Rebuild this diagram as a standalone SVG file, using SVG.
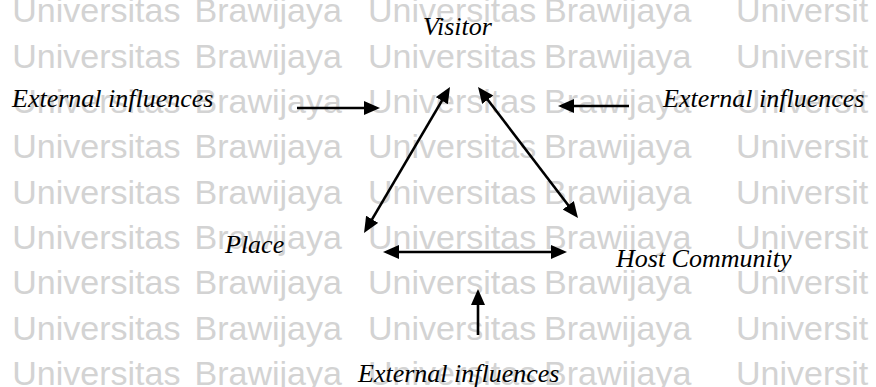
<svg xmlns="http://www.w3.org/2000/svg" width="876" height="387" viewBox="0 0 876 387">
  <style>
    .wm { font-family: "Liberation Sans", Arial, sans-serif; font-size: 34px; fill: #d3d3d3; }
    .lbl { font-family: "Liberation Serif", "Times New Roman", serif; font-style: italic; font-size: 26px; fill: #000; }
    .conn { stroke: #000; stroke-width: 2.6; fill: none; marker-end: url(#ah); }
    .conn2 { stroke: #000; stroke-width: 2.6; fill: none; marker-start: url(#ah); marker-end: url(#ah); }
  </style>
  <defs>
    <marker id="ah" markerUnits="userSpaceOnUse" markerWidth="17" markerHeight="15" refX="6" refY="7" orient="auto-start-reverse">
      <path d="M0,0 L16,7 L0,14 z" fill="#000"/>
    </marker>
  </defs>
  <rect width="876" height="387" fill="#fff"/>
  <g id="watermark" class="wm">
    <text y="22"><tspan x="12.3">Universitas</tspan><tspan x="194.5">Brawijaya</tspan><tspan x="368">Universitas</tspan><tspan x="544">Brawijaya</tspan><tspan x="736">Universit</tspan></text>
    <text y="68"><tspan x="12.3">Universitas</tspan><tspan x="194.5">Brawijaya</tspan><tspan x="368">Universitas</tspan><tspan x="544">Brawijaya</tspan><tspan x="736">Universit</tspan></text>
    <text y="113"><tspan x="12.3">Universitas</tspan><tspan x="194.5">Brawijaya</tspan><tspan x="368">Universitas</tspan><tspan x="544">Brawijaya</tspan><tspan x="736">Universit</tspan></text>
    <text y="158"><tspan x="12.3">Universitas</tspan><tspan x="194.5">Brawijaya</tspan><tspan x="368">Universitas</tspan><tspan x="544">Brawijaya</tspan><tspan x="736">Universit</tspan></text>
    <text y="204"><tspan x="12.3">Universitas</tspan><tspan x="194.5">Brawijaya</tspan><tspan x="368">Universitas</tspan><tspan x="544">Brawijaya</tspan><tspan x="736">Universit</tspan></text>
    <text y="249"><tspan x="12.3">Universitas</tspan><tspan x="194.5">Brawijaya</tspan><tspan x="368">Universitas</tspan><tspan x="544">Brawijaya</tspan><tspan x="736">Universit</tspan></text>
    <text y="294"><tspan x="12.3">Universitas</tspan><tspan x="194.5">Brawijaya</tspan><tspan x="368">Universitas</tspan><tspan x="544">Brawijaya</tspan><tspan x="736">Universit</tspan></text>
    <text y="340"><tspan x="12.3">Universitas</tspan><tspan x="194.5">Brawijaya</tspan><tspan x="368">Universitas</tspan><tspan x="544">Brawijaya</tspan><tspan x="736">Universit</tspan></text>
    <text y="385"><tspan x="12.3">Universitas</tspan><tspan x="194.5">Brawijaya</tspan><tspan x="368">Universitas</tspan><tspan x="544">Brawijaya</tspan><tspan x="736">Universit</tspan></text>
  </g>
  <g id="visitor"><text class="lbl" x="423" y="35">Visitor</text></g>
  <g id="place"><text class="lbl" x="225" y="253">Place</text></g>
  <g id="host-community"><text class="lbl" x="616" y="267">Host Community</text></g>
  <g id="ext-left"><text class="lbl" x="12" y="107">External influences</text></g>
  <g id="ext-right"><text class="lbl" x="663" y="107">External influences</text></g>
  <g id="ext-bottom"><text class="lbl" x="358" y="382">External influences</text></g>
  <g id="connectors">
    <path class="conn" d="M297,108 L370,108"/>
    <path class="conn" d="M629,106 L568,106"/>
    <path class="conn2" d="M444.9,95.6 L369.1,224.4"/>
    <path class="conn2" d="M484.1,95 L571.9,210"/>
    <path class="conn2" d="M393,252 L557,252"/>
    <path class="conn" d="M478,335 L478,299"/>
  </g>
</svg>
